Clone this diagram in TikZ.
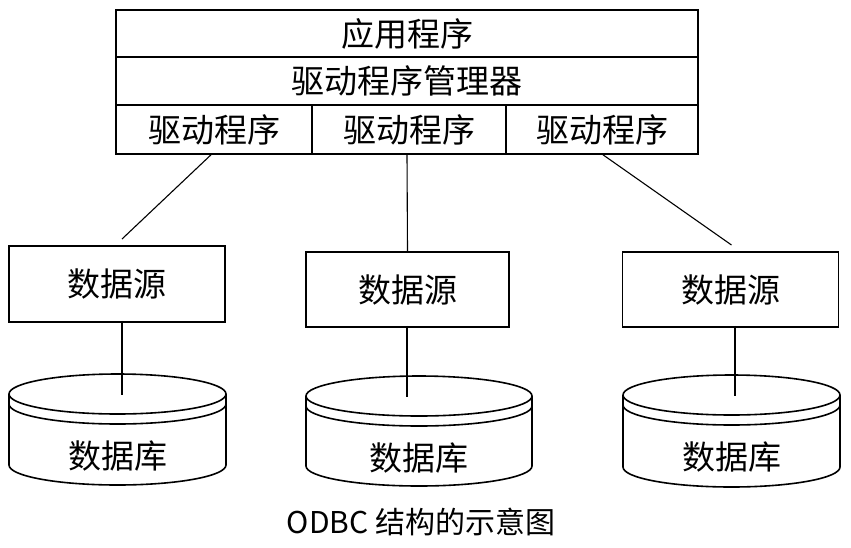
\documentclass[tikz,border=0pt]{standalone}
\usepackage{fontspec}
\setmainfont{Noto Sans CJK SC}
\tikzset{
  layer/.style={draw, line width=1.6pt, inner sep=0pt, font=\fontsize{33pt}{36pt}\selectfont},
  srcbox/.style={layer, minimum height=75pt},
  disk/.style={line width=1.6pt},
  conn/.style={line width=1.1pt},
}
\begin{document}
\begin{tikzpicture}[x=1pt,y=-1pt]
\useasboundingbox (0,0) rectangle (851,547);
% the stack of layers on top
\node[layer, minimum width=582pt, minimum height=47pt] (app) at (407,33.5) {应用程序};
\node[layer, minimum width=582pt, minimum height=48pt] (mgr) at (407,81) {驱动程序管理器};
\node[layer, minimum width=196pt, minimum height=49pt] (drv1) at (214,129.5) {驱动程序};
\node[layer, minimum width=194pt, minimum height=49pt] (drv2) at (409,129.5) {驱动程序};
\node[layer, minimum width=192pt, minimum height=49pt] (drv3) at (602,129.5) {驱动程序};
% data sources
\node[srcbox, minimum width=216pt, minimum height=76pt] (src1) at (117,284) {数据源};
\node[srcbox, minimum width=203pt] (src2) at (407.5,289.5) {数据源};
\node[srcbox, minimum width=216pt] (src3) at (730.5,289.5) {数据源};
% databases
\foreach \name/\cx/\cy/\rx/\h/\lx in {db1/117.5/394/108.5/71/122, db2/419/396/113/70/407, db3/731.5/395/108.5/72/735} {
  \draw[disk] (\cx,\cy) ellipse [x radius=\rx, y radius=20];
  \draw[disk] (\cx-\rx,\cy+10) arc [start angle=180, end angle=0, x radius=\rx, y radius=20];
  \draw[disk] (\cx-\rx,\cy) -- (\cx-\rx,\cy+\h)
    arc [start angle=180, end angle=0, x radius=\rx, y radius=20] -- (\cx+\rx,\cy);
  \node[font=\fontsize{33pt}{36pt}\selectfont] (\name) at (\cx,\cy+62) {数据库};
  \coordinate (\name top) at (\lx,\cy+1);
}
% connectors
\coordinate (tip1) at (122,239);
\coordinate (tip3) at (731.5,245);
\draw[conn] ([xshift=-3pt]drv1.south) -- (tip1);
\draw[conn] ([xshift=-2pt]drv2.south) -- (src2.north);
\draw[conn] ([xshift=1pt]drv3.south) -- (tip3);
\draw[conn] ([yshift=2pt]src1.south -| db1top) -- (db1top);
\draw[conn] ([yshift=2pt]src2.south -| db2top) -- (db2top);
\draw[conn] ([yshift=2pt]src3.south -| db3top) -- (db3top);
% caption
\node[font=\fontsize{30pt}{33pt}\selectfont] (cap) at (421,522) {ODBC 结构的示意图};
\end{tikzpicture}
\end{document}
